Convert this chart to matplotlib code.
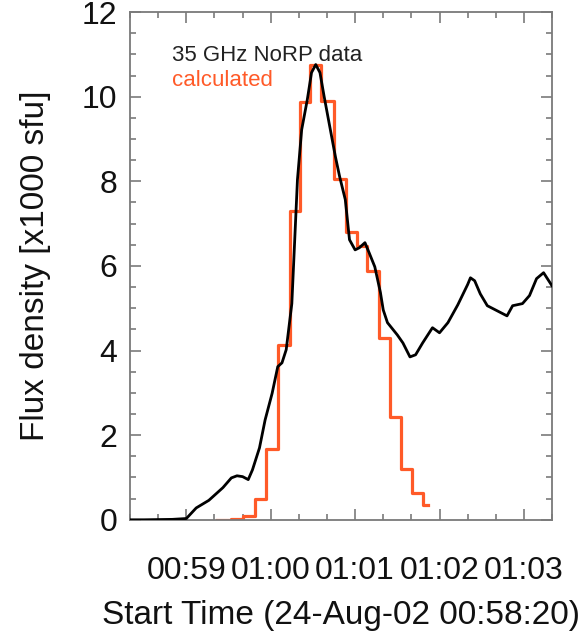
import numpy as np
import matplotlib
matplotlib.use("Agg")
import matplotlib.pyplot as plt
from matplotlib.ticker import MultipleLocator

plt.rcParams['font.family'] = ['Liberation Sans', 'DejaVu Sans']

# seconds after 00:58:20
norp_t = [0, 10, 30, 40, 47, 52, 56, 62, 66, 72, 76, 80, 84, 87, 92, 96, 101, 105, 108, 111,
          115, 119, 122, 126, 129, 132, 135, 138, 142, 146, 149, 153, 156, 160, 163, 167, 170,
          174, 178, 180, 183, 190, 194, 199, 203, 208, 215, 220, 226, 233, 240, 242, 245, 249,
          254, 261, 268, 272, 279, 284, 289, 294, 300]
norp_flux = [0.0, 0.0, 0.01, 0.03, 0.28, 0.38, 0.46, 0.64, 0.76, 0.99, 1.04, 1.02, 0.95, 1.18,
             1.70, 2.36, 2.99, 3.62, 3.71, 4.02, 5.11, 8.04, 9.22, 9.93, 10.57, 10.76, 10.57,
             10.0, 9.29, 8.58, 8.11, 7.57, 6.62, 6.38, 6.43, 6.55, 6.31, 5.98, 5.37, 4.96,
             4.66, 4.37, 4.18, 3.85, 3.90, 4.18, 4.54, 4.42, 4.66, 5.08, 5.56, 5.72, 5.65,
             5.34, 5.06, 4.94, 4.82, 5.06, 5.11, 5.30, 5.70, 5.84, 5.53]

# calculated flux, step edges
calc_t = [62, 72, 80, 88.6, 96.9, 105.2, 113.5, 120.6, 128, 136, 145, 153.2, 161, 168.8,
          176.9, 184.7, 192.5, 200.6, 208.4, 212]
calc_flux = [0.0, 0.03, 0.09, 0.5, 1.67, 4.12, 7.31, 9.87, 10.76, 9.91, 8.06, 6.80, 6.46,
             5.87, 4.30, 2.42, 1.20, 0.63, 0.35, 0.35]

tick_secs = [40, 100, 160, 220, 280]
tick_labels = ['00:59', '01:00', '01:01', '01:02', '01:03']

orange = '#ff5a28'
frame = '#7a7a7a'

fig = plt.figure(figsize=(5.86, 6.37), dpi=100)
ax = fig.add_axes([0.222, 0.184, 0.72, 0.797])

ax.step(calc_t, calc_flux, where='post', color=orange, lw=2.3, zorder=2)
ax.plot(norp_t, norp_flux, color='black', lw=2.0, zorder=3)

ax.set_xlim(0, 300)
ax.set_ylim(0, 12)

ax.set_xticks(tick_secs)
ax.set_xticklabels(tick_labels)
ax.xaxis.set_minor_locator(MultipleLocator(20))
ax.yaxis.set_major_locator(MultipleLocator(2))
ax.yaxis.set_minor_locator(MultipleLocator(0.5))

ax.tick_params(which='both', direction='in', top=True, right=True, color=frame, width=1.2)
ax.tick_params(which='major', length=8)
ax.tick_params(which='minor', length=4)
ax.tick_params(axis='x', which='major', labelsize=23, pad=26, labelcolor='#111111')
ax.tick_params(axis='y', which='major', labelsize=23, pad=9, labelcolor='#111111')
for s in ax.spines.values():
    s.set_color(frame)
    s.set_linewidth(1.3)

ax.set_xlabel('Start Time (24-Aug-02 00:58:20)', fontsize=24, labelpad=10, color='#111111')
ax.set_ylabel('Flux density [x1000 sfu]', fontsize=24, labelpad=22, color='#111111')

ax.text(0.099, 0.915, '35 GHz NoRP data', transform=ax.transAxes, fontsize=16,
        color='#222222', va='center', ha='left')
ax.text(0.099, 0.866, 'calculated', transform=ax.transAxes, fontsize=16,
        color=orange, va='center', ha='left')

fig.savefig('out.png', dpi=100)
